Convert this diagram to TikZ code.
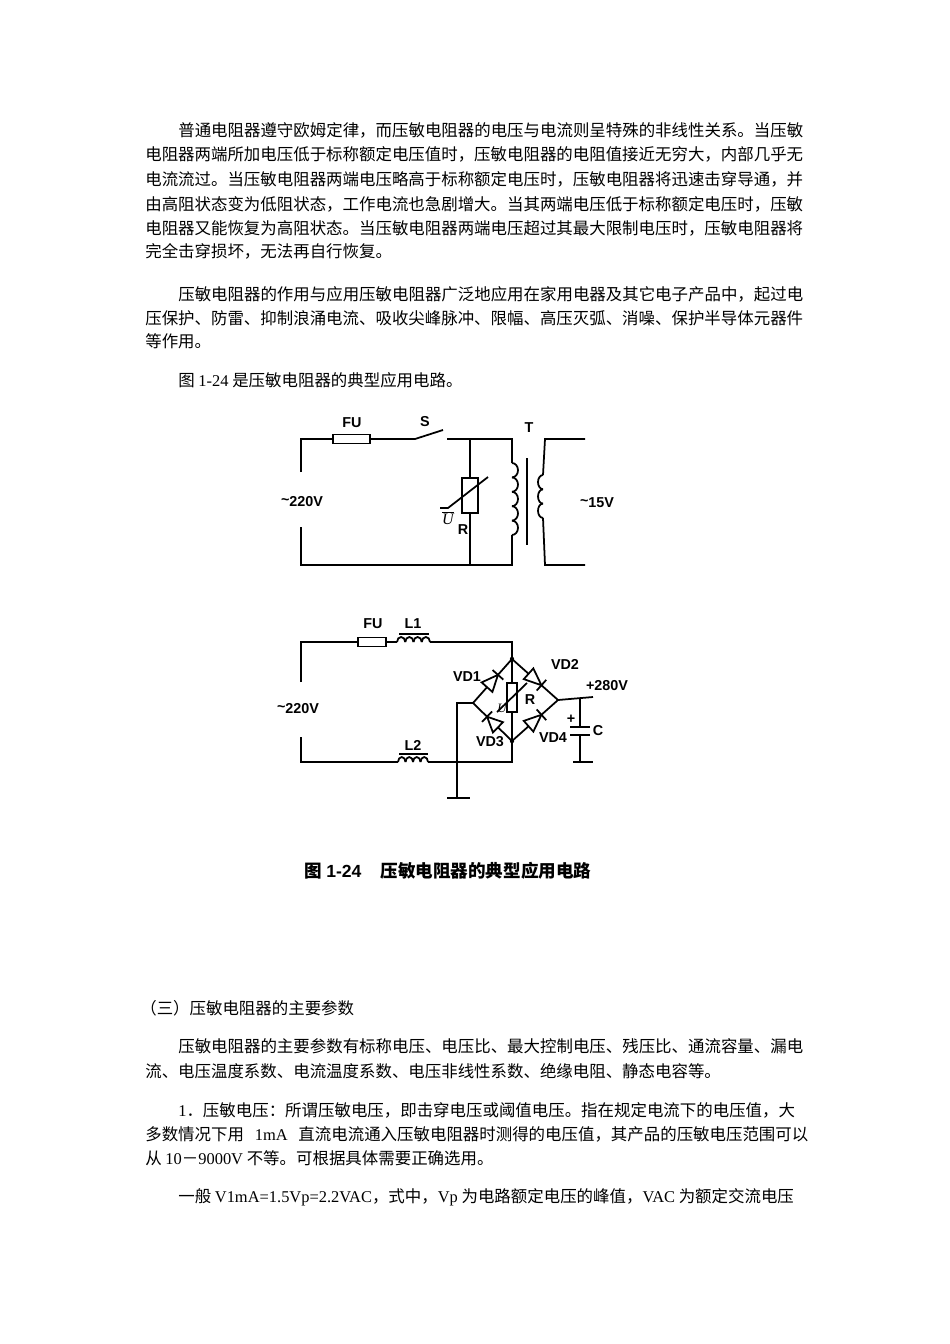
\documentclass[tikz,border=0pt]{standalone}
\usepackage{fontspec}
\setmainfont{Noto Sans CJK SC}
\newfontfamily\lat{Liberation Serif}
\newfontfamily\lab{Liberation Sans}
\usetikzlibrary{calc}
\newlength\px \px=0.6263pt
\XeTeXlinebreaklocale "zh"
\XeTeXlinebreakskip=0pt plus 2pt
\newcommand\jl[1]{\makebox[663\px][s]{#1}}
\newcommand\ind{\hspace*{33\px}}
\tikzset{txt/.style={anchor=west,inner sep=0pt,font=\fontsize{10.3pt}{12pt}\selectfont},
 lb/.style={inner sep=0pt,font=\lab\bfseries\fontsize{9pt}{10pt}\selectfont},
 w/.style={line width=1.1pt}}
\newcommand\dio[2]{%
 \fill[white] ($(#1)!0.36!(#2)!6pt!90:(#2)$)--($(#1)!0.36!(#2)!6pt!-90:(#2)$)--($(#1)!0.64!(#2)$)--cycle;
 \draw[w] ($(#1)!0.36!(#2)!4.5pt!90:(#2)$)--($(#1)!0.36!(#2)!4.5pt!-90:(#2)$)--($(#1)!0.64!(#2)$)--cycle;
 \draw[w] ($(#1)!0.64!(#2)!4.5pt!90:(#2)$)--($(#1)!0.64!(#2)!4.5pt!-90:(#2)$);}
\begin{document}
\begin{tikzpicture}[x=0.6263pt,y=-0.6263pt]
\useasboundingbox (0,0) rectangle (950,1344);
% text
\node[txt] (p1) at (145,130) {\jl{\ind 普通电阻器遵守欧姆定律，而压敏电阻器的电压与电流则呈特殊的非线性关系。当压敏}};
\node[txt] (p2) at (145,154) {\jl{电阻器两端所加电压低于标称额定电压值时，压敏电阻器的电阻值接近无穷大，内部几乎无}};
\node[txt] (p3) at (145,179) {\jl{电流流过。当压敏电阻器两端电压略高于标称额定电压时，压敏电阻器将迅速击穿导通，并}};
\node[txt] (p4) at (145,204) {\jl{由高阻状态变为低阻状态，工作电流也急剧增大。当其两端电压低于标称额定电压时，压敏}};
\node[txt] (p5) at (145,228) {\jl{电阻器又能恢复为高阻状态。当压敏电阻器两端电压超过其最大限制电压时，压敏电阻器将}};
\node[txt] (p6) at (145,251) {完全击穿损坏，无法再自行恢复。};
\node[txt] (q1) at (145,294) {\jl{\ind 压敏电阻器的作用与应用压敏电阻器广泛地应用在家用电器及其它电子产品中，起过电}};
\node[txt] (q2) at (145,318) {\jl{压保护、防雷、抑制浪涌电流、吸收尖峰脉冲、限幅、高压灭弧、消噪、保护半导体元器件}};
\node[txt] (q3) at (145,341) {等作用。};
\node[txt] (f1) at (145,380) {\ind 图 {\lat 1-24} 是压敏电阻器的典型应用电路。};
\node[txt,anchor=center,font=\bfseries\fontsize{11pt}{12pt}\selectfont] (cap) at (448,871) {图 {\lab 1-24}\hspace{12pt}压敏电阻器的典型应用电路};
\node[txt] (s1) at (140,1008) {（三）压敏电阻器的主要参数};
\node[txt] (r1) at (145,1046) {\jl{\ind 压敏电阻器的主要参数有标称电压、电压比、最大控制电压、残压比、通流容量、漏电}};
\node[txt] (r2) at (145,1071) {流、电压温度系数、电流温度系数、电压非线性系数、绝缘电阻、静态电容等。};
\node[txt] (t1) at (145,1110) {\jl{\ind {\lat 1}．压敏电压：所谓压敏电压，即击穿电压或阈值电压。指在规定电流下的电压值，大}};
\node[txt] (t2) at (145,1134) {\jl{多数情况下用{\lat\ 1mA\ }直流电流通入压敏电阻器时测得的电压值，其产品的压敏电压范围可以}};
\node[txt] (t3) at (145,1158) {从 {\lat 10}－{\lat 9000V} 不等。可根据具体需要正确选用。};
\node[txt] (u1) at (145,1197) {\ind 一般 {\lat V1mA=1.5Vp=2.2VAC}，式中，{\lat Vp} 为电路额定电压的峰值，{\lat VAC} 为额定交流电压};
% ---------- circuit 1 ----------
\coordinate (a1) at (301,472); \coordinate (a2) at (301,439);
\coordinate (b1) at (301,527); \coordinate (b2) at (301,565);
\draw[w] (a1)--(a2)--(333,439);
\node[draw,w,minimum width=37\px,minimum height=9\px,inner sep=0pt] (fu1) at (351.5,439) {};
\draw[w] (fu1.east)--(415,439)--(443,430);
\draw[w] (447,439)--(512,439)--(512,463);
\draw[w] (b1)--(b2)--(512,565)--(512,535);
\draw[w] (470,439)--(470,478); \draw[w] (470,513)--(470,565);
\node[draw,w,minimum width=16\px,minimum height=35\px,inner sep=0pt] (rv1) at (470,495.5) {};
\draw[w] (440,508)--(448,508)--(488,477);
\foreach \i in {0,...,4} \draw[w] (512,463+14.4*\i) arc (-90:90:6 and 7.2);
\draw[w] (527,458)--(527,545);
\foreach \i in {0,...,2} \draw[w] (543,475+14.3*\i) arc (-90:-270:5 and 7.15);
\draw[w] (585,439)--(545,439)--(543,475);
\draw[w] (543,518)--(545,565)--(585,565);
\node[lb] (lfu1) at (352,423) {FU};
\node[lb] (ls) at (425,422) {S};
\node[lb] (lt) at (529,428) {T};
\node[lb] (l220a) at (302,502) {\raisebox{0.3ex}{\textasciitilde}220V};
\node[lb] (l15) at (597,503) {\raisebox{0.3ex}{\textasciitilde}15V};
\node[lb,font=\lat\itshape\fontsize{10pt}{10pt}\selectfont] (lu1) at (448,518) {$\overline{\mbox{\lat\itshape U}}$};
\node[lb] (lr1) at (463,530) {R};
% ---------- circuit 2 ----------
\coordinate (T) at (512,659); \coordinate (L) at (473,703);
\coordinate (Rr) at (558,700); \coordinate (B) at (512,741);
\draw[w] (301,682)--(301,642)--(358,642);
\node[draw,w,minimum width=28\px,minimum height=9\px,inner sep=0pt] (fu2) at (372,642) {};
\draw[w] (fu2.east)--(397,642);
\foreach \i in {0,...,3} \draw[w] (397+8.25*\i,642) arc (180:360:4.125 and 5);
\draw[w] (399,634)--(429,634);
\draw[w] (430,642)--(512,642)--(T);
\draw[w] (T)--(L)--(B)--(Rr)--(T);
\dio{L}{T} \dio{T}{Rr} \dio{B}{L} \dio{B}{Rr}
\draw[w] (T)--(512,683); \draw[w] (512,712)--(B);
\node[draw,w,fill=white,minimum width=10\px,minimum height=29\px,inner sep=0pt] (rv2) at (512,697.5) {};
\draw[w] (497,712)--(527,683);
\fill (T) circle (2.2); \fill (B) circle (2.2);
\draw[w] (L)--(457,703)--(457,798);
\draw[w] (447,798)--(470,798);
\draw[w] (301,737)--(301,762)--(398,762);
\foreach \i in {0,...,3} \draw[w] (398+7.5*\i,762) arc (180:360:3.75 and 5);
\draw[w] (399,754)--(428,754);
\draw[w] (428,762)--(512,762)--(B);
\draw[w] (Rr)--(593,697);
\draw[w] (580,698)--(580,727); \draw[w] (570,727)--(590,727);
\draw[w] (570,735)--(590,735); \draw[w] (580,735)--(580,762); \draw[w] (573,762)--(593,762);
\node[lb] (lfu2) at (373,624) {FU};
\node[lb] (ll1) at (413,624) {L1};
\node[lb] (l220b) at (298,709) {\raisebox{0.3ex}{\textasciitilde}220V};
\node[lb] (ll2) at (413,745) {L2};
\node[lb] (lv1) at (467,677) {VD1};
\node[lb] (lv2) at (565,664) {VD2};
\node[lb] (l280) at (607,686) {+280V};
\node[lb] (lv3) at (490,742) {VD3};
\node[lb] (lv4) at (553,738) {VD4};
\node[lb] (lc) at (598,731) {C};
\node[lb] (lp) at (571,719) {+};
\node[lb] (lr2) at (530,700) {R};
\node[lb,font=\lat\itshape\fontsize{8pt}{8pt}\selectfont] (lu2) at (502,708) {U};
\end{tikzpicture}
\end{document}
